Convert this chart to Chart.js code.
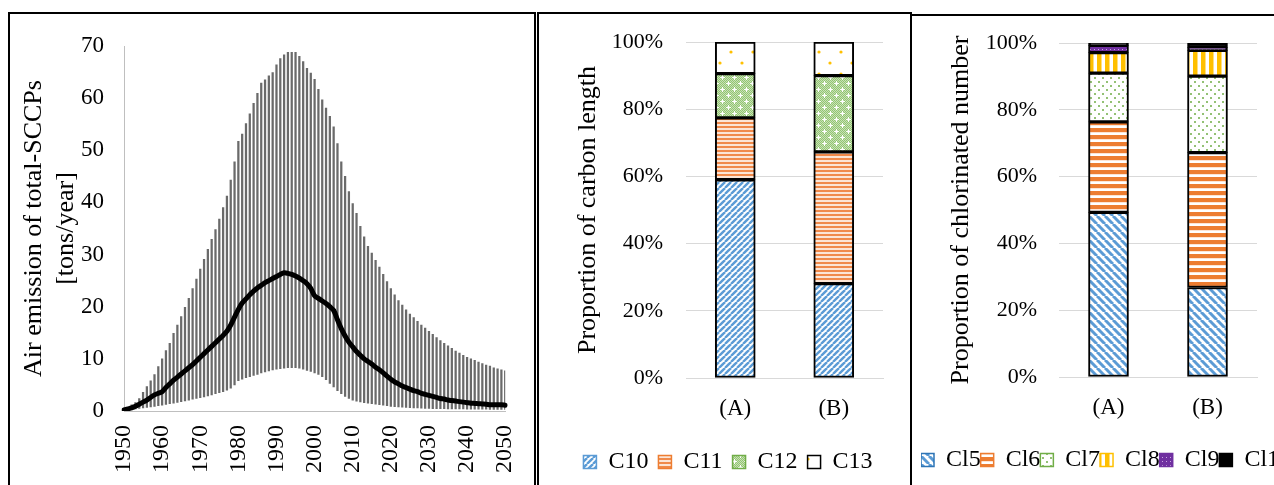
<!DOCTYPE html>
<html>
<head>
<meta charset="utf-8">
<script src="https://cdn.jsdelivr.net/npm/chart.js@4.4.1/dist/chart.umd.min.js"></script>
<style>
  html, body { margin: 0; padding: 0; background: #fff; overflow: hidden; width: 1274px; height: 485px; }
  canvas { position: absolute; }
  .frame { position: absolute; box-sizing: border-box; border: 0 solid #000; pointer-events: none; }
</style>
</head>
<body>
<canvas id="emission" width="525" height="472" style="left:9px;top:13px"></canvas>
<canvas id="carbon" width="371" height="490" style="left:539px;top:14px"></canvas>
<canvas id="chlorine" width="430" height="490" style="left:913px;top:16px"></canvas>
<div class="frame" style="left:8px;top:12px;width:528px;height:500px;border-width:2px 2px 0 2px"></div>
<div class="frame" style="left:537px;top:12px;width:375px;height:500px;border-width:2px 2px 0 2px"></div>
<div class="frame" style="left:910px;top:14px;width:400px;height:500px;border-width:2px 0 0 2px"></div>
<script>
// panel 1 : yearly air emission, range (bars) and central estimate (line)
const years = Array.from({ length: 101 }, (_, i) => 1950 + i);
const upper = [
  0.2, 0.5, 1.2, 1.6, 2.4, 3.6, 4.7, 5.8, 7.0, 8.5,
  10.0, 11.6, 13.0, 14.9, 16.5, 18.1, 19.9, 21.6, 23.5, 25.3,
  27.2, 29.1, 31.0, 32.9, 34.8, 36.8, 39.0, 41.2, 44.3, 47.8,
  51.7, 53.1, 55.1, 57.0, 59.0, 60.9, 62.9, 63.5, 64.3, 64.9,
  66.4, 67.6, 68.3, 68.8, 68.8, 68.8, 68.0, 67.0, 65.7, 64.8,
  63.6, 61.7, 59.7, 58.1, 56.5, 54.5, 51.3, 47.8, 45.0, 42.1,
  39.8, 37.9, 35.4, 33.4, 31.6, 30.3, 28.9, 27.6, 26.2, 24.8,
  23.5, 22.3, 21.2, 20.3, 19.4, 18.6, 17.9, 17.2, 16.5, 15.9,
  15.3, 14.7, 14.1, 13.5, 13.0, 12.5, 12.0, 11.5, 11.1, 10.7,
  10.3, 10.0, 9.7, 9.4, 9.1, 8.8, 8.6, 8.3, 8.1, 7.9,
  7.7
];
const lower = [
  0, 0.1, 0.3, 0.4, 0.5, 0.6, 0.7, 0.8, 0.9, 1.0,
  1.1, 1.25, 1.4, 1.5, 1.65, 1.8, 1.95, 2.1, 2.25, 2.4,
  2.55, 2.7, 2.9, 3.1, 3.3, 3.5, 3.7, 4.0, 4.4, 5.0,
  5.8, 6.1, 6.4, 6.6, 6.8, 7.0, 7.3, 7.5, 7.7, 7.9,
  8.0, 8.1, 8.2, 8.3, 8.3, 8.3, 8.2, 8.0, 7.8, 7.6,
  7.3, 7.0, 6.6, 6.0, 5.3, 4.6, 3.9, 3.3, 2.8, 2.4,
  2.1, 1.9, 1.75, 1.6, 1.5, 1.4, 1.3, 1.2, 1.1, 1.0,
  0.9, 0.85, 0.8, 0.75, 0.7, 0.65, 0.6, 0.57, 0.54, 0.5,
  0.48, 0.46, 0.45, 0.44, 0.43, 0.42, 0.41, 0.4, 0.39, 0.38,
  0.37, 0.36, 0.35, 0.34, 0.33, 0.33, 0.32, 0.32, 0.31, 0.31,
  0.3
];
const median = [
  0.2, 0.4, 0.6, 0.9, 1.3, 1.7, 2.1, 2.6, 3.1, 3.4,
  3.7, 4.5, 5.2, 5.9, 6.5, 7.1, 7.7, 8.3, 8.9, 9.6,
  10.3, 11.0, 11.7, 12.4, 13.1, 13.8, 14.5, 15.3, 16.5, 18.0,
  19.5, 20.7, 21.5, 22.3, 23.0, 23.6, 24.1, 24.6, 25.0, 25.4,
  25.8, 26.2, 26.5, 26.4, 26.2, 25.9, 25.5, 25.0, 24.4, 23.5,
  22.1, 21.6, 21.1, 20.6, 20.0, 19.3, 17.5, 15.8, 14.4, 13.2,
  12.3, 11.4, 10.7, 10.0, 9.5, 9.0, 8.4, 7.9, 7.3, 6.7,
  6.1, 5.6, 5.2, 4.8, 4.5, 4.2, 3.9, 3.7, 3.4, 3.2,
  3.0, 2.8, 2.6, 2.4, 2.3, 2.1, 2.0, 1.9, 1.8, 1.7,
  1.6, 1.5, 1.45, 1.4, 1.35, 1.3, 1.2, 1.2, 1.2, 1.2,
  1.1
];

// panel 2 : carbon length shares (%)
const groups = ['(A)', '(B)'];
const c10 = [59.0, 28.1];
const c11 = [18.4, 39.2];
const c12 = [13.2, 22.7];
const c13 = [9.4, 10.0];

// panel 3 : chlorine number shares (%)
const cl5 = [49.3, 26.8];
const cl6 = [27.1, 40.4];
const cl7 = [14.6, 22.9];
const cl8 = [6.1, 7.7];
const cl9 = [2.2, 0.9];
const cl10 = [0.7, 1.3];

Chart.defaults.font.family = "'Liberation Serif', 'Times New Roman', serif";
Chart.defaults.color = '#000';
Chart.defaults.animation = false;

function tile(w, h, draw) {
  const c = document.createElement('canvas');
  c.width = w; c.height = h;
  const g = c.getContext('2d');
  g.fillStyle = '#fff';
  g.fillRect(0, 0, w, h);
  draw(g);
  return g.createPattern(c, 'repeat');
}
function diag(g, size, color, width, up) {
  g.strokeStyle = color; g.lineWidth = width;
  for (let k = -1; k <= 1; k++) {
    g.beginPath();
    if (up) { g.moveTo(k * size, size); g.lineTo(k * size + size, 0); }
    else { g.moveTo(k * size, 0); g.lineTo(k * size + size, size); }
    g.stroke();
  }
}
function dots(g, pts, r, color) {
  g.fillStyle = color;
  pts.forEach(([x, y]) => { g.beginPath(); g.arc(x, y, r, 0, Math.PI * 2); g.fill(); });
}

const pC10 = tile(6, 6, g => diag(g, 6, '#5b9bd5', 2.4, true));
const pC11 = tile(4, 4, g => { g.fillStyle = '#fbe5d6'; g.fillRect(0, 2, 4, 2); g.fillStyle = '#f08a4b'; g.fillRect(0, 0, 4, 2); });
const pC12 = tile(12, 12, g => {
  g.fillStyle = '#93c572'; g.fillRect(0, 0, 12, 12);
  g.fillStyle = '#c8e2b6';
  for (let i = 0; i < 12; i++) for (let j = 0; j < 12; j++) if ((i + j) % 2 === 0) g.fillRect(i, j, 1, 1);
  g.fillStyle = '#fff';
  [[3, 3], [9, 9]].forEach(([x, y]) => { g.fillRect(x - 2, y, 5, 1); g.fillRect(x, y - 2, 1, 5); });
});
const pC13 = tile(22, 22, g => dots(g, [[5, 5], [16, 16]], 1.6, '#ffc000'));
const pCl5 = tile(8, 8, g => diag(g, 8, '#5b9bd5', 3, false));
const pCl6 = tile(2, 7, g => { g.fillStyle = '#ed7d31'; g.fillRect(0, 0, 2, 4); g.fillStyle = '#fde4d4'; g.fillRect(0, 4, 2, 1); });
const pCl7 = tile(8, 8, g => dots(g, [[2, 2], [6, 6]], 1, '#70ad47'));
const pCl8 = tile(8, 2, g => { g.fillStyle = '#ffc000'; g.fillRect(0, 0, 4.5, 2); });
const pCl9 = tile(4, 4, g => { g.fillStyle = '#7030a0'; g.fillRect(0, 0, 4, 4); g.fillStyle = '#c9a6e0'; g.fillRect(1, 1, 1, 1); });

new Chart(document.getElementById('emission'), {
  type: 'bar',
  data: {
    labels: years,
    datasets: [
      {
        type: 'line',
        data: median,
        borderColor: '#000',
        borderWidth: 5,
        borderJoinStyle: 'round',
        borderCapStyle: 'round',
        pointRadius: 0,
        tension: 0.3,
        order: 0,
      },
      {
        data: lower.map((v, i) => [v, upper[i]]),
        backgroundColor: '#6a6a6a',
        barThickness: 1.6,
        order: 1,
      },
    ],
  },
  options: {
    responsive: false,
    layout: { padding: { left: 10, top: 33, right: 22, bottom: 4 } },
    plugins: { legend: { display: false }, tooltip: { enabled: false } },
    scales: {
      x: {
        offset: false,
        grid: { display: false, tickLength: 14 },
        border: { color: '#bfbfbf' },
        ticks: {
          autoSkip: false, maxRotation: 90, minRotation: 90, padding: 0,
          font: { size: 24 },
          callback: (v, i) => (years[i] % 10 === 0 ? String(years[i]) : ''),
        },
        afterFit: s => { s.height = 70; },
      },
      y: {
        min: 0, max: 70,
        ticks: { stepSize: 10, padding: 0, font: { size: 23 } },
        grid: { display: false, tickLength: 20 },
        border: { color: '#bfbfbf' },
        title: { display: true, text: ['Air emission of total-SCCPs', '[tons/year]'], font: { size: 26 }, padding: 0 },
        afterFit: s => { s.width = 105; },
      },
    },
  },
});

function shareChart(id, cfg) {
  return new Chart(document.getElementById(id), {
    type: 'bar',
    data: {
      labels: groups,
      datasets: cfg.names.map((n, i) => ({
        label: n,
        data: cfg.series[i],
        backgroundColor: cfg.fills[i],
        borderColor: '#000',
        borderWidth: 2,
        borderSkipped: false,
        barThickness: 40,
        yAxisID: 'y',
      })),
    },
    options: {
      responsive: false,
      layout: { padding: cfg.pad },
      plugins: {
        tooltip: { enabled: false },
        legend: {
          position: 'bottom',
          align: cfg.legendAlign,
          labels: {
            boxWidth: 13, boxHeight: 13, padding: cfg.legendPad, font: { size: 24 },
            generateLabels: chart => Chart.defaults.plugins.legend.labels.generateLabels(chart)
              .map((l, i) => Object.assign(l, { strokeStyle: cfg.edges[i], lineWidth: 1.5 })),
          },
        },
      },
      scales: {
        x: {
          stacked: true,
          grid: { display: false, tickLength: 17 },
          border: { color: '#d9d9d9' },
          ticks: { padding: 0, font: { size: 23 } },
          afterFit: s => { s.height = cfg.xHeight; },
        },
        y: {
          stacked: true, min: 0, max: 100,
          ticks: { stepSize: 20, padding: 0, font: { size: 22 }, callback: v => v + '%' },
          grid: { color: '#d9d9d9', tickLength: cfg.tick, tickColor: 'rgba(0,0,0,0)' },
          border: { display: false },
          title: { display: true, text: cfg.title, font: { size: 26 }, padding: { top: cfg.titlePad, bottom: 0 } },
          afterFit: s => { s.width = cfg.yWidth; },
        },
        spacer: {
          type: 'linear', axis: 'y', position: 'right', display: cfg.spacer > 0,
          grid: { display: false, drawTicks: false }, border: { display: false }, ticks: { display: false },
          afterFit: s => { s.width = cfg.spacer; },
        },
      },
    },
  });
}

shareChart('carbon', {
  names: ['C10', 'C11', 'C12', 'C13'],
  series: [c10, c11, c12, c13],
  fills: [pC10, pC11, pC12, pC13],
  edges: ['#5b9bd5', '#ed7d31', '#70ad47', '#000'],
  title: 'Proportion of carbon length',
  pad: { left: 34, top: 28, right: 27, bottom: 20 },
  yWidth: 113, xHeight: 62, tick: 23, titlePad: 0, spacer: 0,
  legendPad: 10, legendAlign: 'center',
});

shareChart('chlorine', {
  names: ['Cl5', 'Cl6', 'Cl7', 'Cl8', 'Cl9', 'Cl10'],
  series: [cl5, cl6, cl7, cl8, cl9, cl10],
  fills: [pCl5, pCl6, pCl7, pCl8, pCl9, '#000'],
  edges: ['#2e75b6', '#ed7d31', '#70ad47', '#ffc000', '#7030a0', '#000'],
  title: 'Proportion of chlorinated number',
  pad: { left: 8, top: 27, right: 0, bottom: 24 },
  yWidth: 138, xHeight: 71, tick: 22, titlePad: 25, spacer: 86,
  legendPad: 0, legendAlign: 'start',
});
</script>
</body>
</html>
